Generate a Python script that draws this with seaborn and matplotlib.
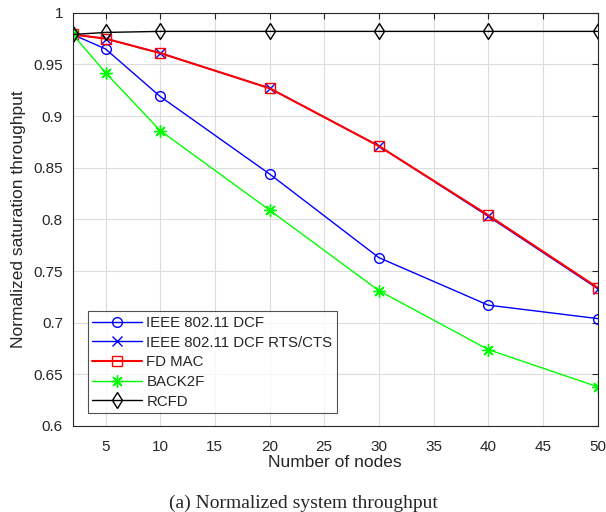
import matplotlib
matplotlib.use("Agg")
import matplotlib.pyplot as plt
import pandas as pd
import seaborn as sns

# data
nodes = [2, 5, 10, 20, 30, 40, 50]
dcf = [0.979, 0.965, 0.919, 0.844, 0.763, 0.717, 0.704]
rts_cts = [0.979, 0.975, 0.961, 0.927, 0.871, 0.803, 0.733]
fd_mac = [0.979, 0.975, 0.961, 0.927, 0.871, 0.804, 0.734]
back2f = [0.979, 0.942, 0.886, 0.809, 0.731, 0.674, 0.638]
rcfd = [0.979, 0.981, 0.982, 0.982, 0.982, 0.982, 0.982]

schemes = ["IEEE 802.11 DCF", "IEEE 802.11 DCF RTS/CTS", "FD MAC", "BACK2F", "RCFD"]
colors = ["#0000ff", "#0000ff", "#ff0000", "#00ff00", "#000000"]
markers = ["o", "x", "s", (8, 2, 0), "d"]
msizes = [7, 7, 6.5, 9, 8]

sns.set_style("white")
plt.rcParams["font.family"] = ["Liberation Sans", "DejaVu Sans"]

df = pd.DataFrame({"nodes": nodes * 5,
                   "thr": dcf + rts_cts + fd_mac + back2f + rcfd,
                   "scheme": sum([[s] * len(nodes) for s in schemes], [])})

fig = plt.figure(figsize=(6.06, 5.12), dpi=100)
ax = fig.add_axes([0.120, 0.168, 0.866, 0.807])

for s, c, m, ms in zip(schemes, colors, markers, msizes):
    sub = df[df["scheme"] == s]
    filled = m in ("x", (8, 2, 0))
    sns.lineplot(data=sub, x="nodes", y="thr", ax=ax, color=c, marker=m,
                 markersize=ms, lw=1.5 if s == "FD MAC" else 1.0,
                 markerfacecolor=c if filled else "none", markeredgecolor=c,
                 markeredgewidth=1.0, label=s)

ax.set_xlim(2, 50)
ax.set_ylim(0.6, 1.0)
ax.set_xticks([5, 10, 15, 20, 25, 30, 35, 40, 45, 50])
ax.set_yticks([0.6, 0.65, 0.7, 0.75, 0.8, 0.85, 0.9, 0.95, 1.0])
ax.set_yticklabels(["0.6", "0.65", "0.7", "0.75", "0.8", "0.85", "0.9", "0.95", "1"])
ax.grid(True, color="#dcdcdc", lw=0.8)
ax.tick_params(direction="in", length=4, top=True, right=True, labelsize=11,
               colors="#262626", width=0.8)
ax.tick_params(axis="x", pad=10)
ax.tick_params(axis="y", pad=7)
for sp in ax.spines.values():
    sp.set_color("#262626")
    sp.set_linewidth(0.8)
ax.set_xlabel("Number of nodes", fontsize=12.5, color="#262626", labelpad=1)
ax.set_ylabel("Normalized saturation throughput", fontsize=12.5, color="#262626", labelpad=5)

leg = ax.legend(loc="lower left", bbox_to_anchor=(0.029, 0.031), fontsize=10.8,
                frameon=True, fancybox=False, handlelength=3.3,
                borderpad=0.3, labelspacing=0.38, handletextpad=0.3,
                borderaxespad=0.0)
leg.get_frame().set_edgecolor("#262626")
leg.get_frame().set_linewidth(0.8)

fig.text(0.5, 0.016, "(a) Normalized system throughput", ha="center", va="center",
         fontsize=14, family=["Liberation Serif"])

fig.savefig("out.png", dpi=100)
